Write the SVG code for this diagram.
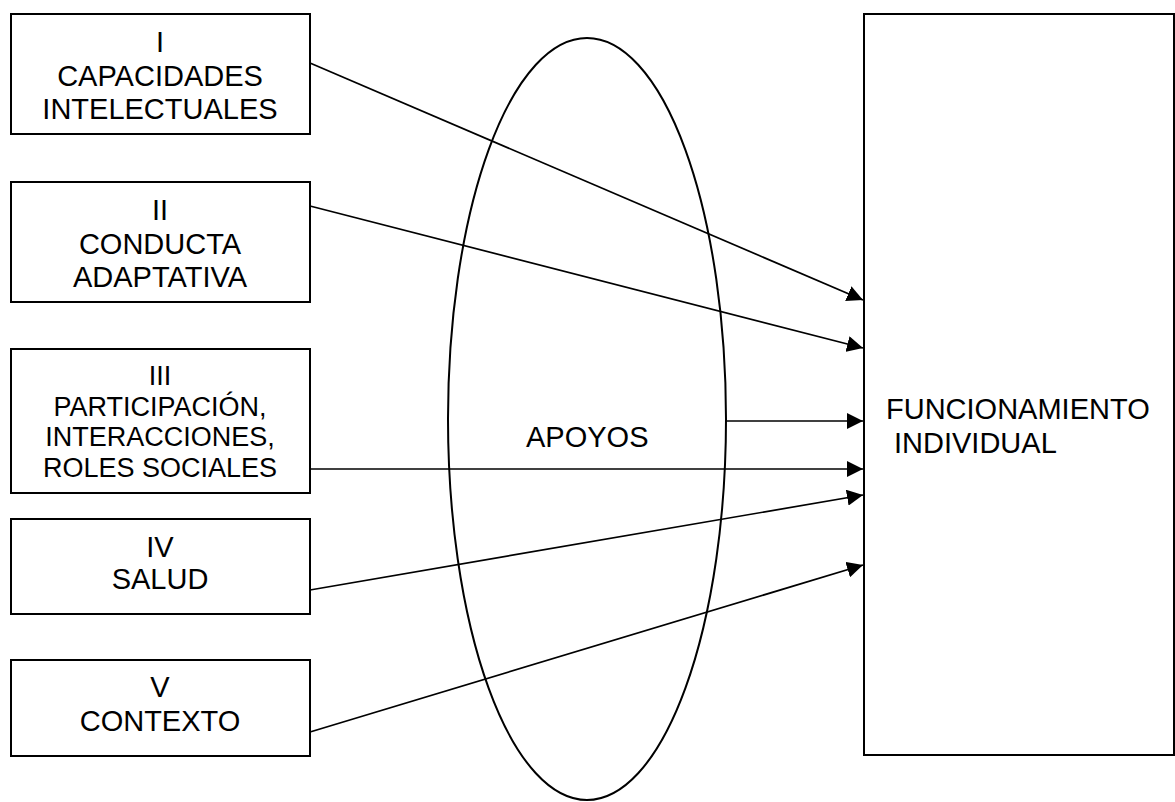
<svg xmlns="http://www.w3.org/2000/svg" width="1175" height="802" viewBox="0 0 1175 802">
<style>
.box{fill:#fff;stroke:#000;stroke-width:2}
.t{font-family:"Liberation Sans",Arial,sans-serif;font-size:29px;fill:#000}
.s{font-size:27px}
.c{text-anchor:middle}
.ln{stroke:#000;stroke-width:1.7;fill:none;marker-end:url(#ah)}
</style>
<defs>
<marker id="ah" markerUnits="userSpaceOnUse" markerWidth="16" markerHeight="16" viewBox="0 0 16 16" refX="16" refY="8" orient="auto">
<path d="M0,0 L16,8 L0,16 Z" fill="#000"/>
</marker>
</defs>
<rect width="1175" height="802" fill="#fff"/>
<g id="apoyos">
<ellipse cx="587" cy="419" rx="139" ry="381" fill="none" stroke="#000" stroke-width="2"/>
<text class="t" x="526" y="447">APOYOS</text>
</g>
<g id="n1">
<rect class="box" x="11" y="14" width="299" height="120"/>
<text class="t c" x="160" y="52">I</text>
<text class="t c" x="160" y="86">CAPACIDADES</text>
<text class="t c" x="160" y="119">INTELECTUALES</text>
</g>
<g id="n2">
<rect class="box" x="11" y="182" width="299" height="120"/>
<text class="t c" x="160" y="220">II</text>
<text class="t c" x="160" y="254">CONDUCTA</text>
<text class="t c" x="160" y="287">ADAPTATIVA</text>
</g>
<g id="n3">
<rect class="box" x="11" y="349" width="299" height="144"/>
<text class="t s c" x="160" y="385">III</text>
<text class="t s c" x="160" y="416">PARTICIPACIÓN,</text>
<text class="t s c" x="160" y="446">INTERACCIONES,</text>
<text class="t s c" x="160" y="477">ROLES SOCIALES</text>
</g>
<g id="n4">
<rect class="box" x="11" y="519" width="299" height="95"/>
<text class="t c" x="160" y="557">IV</text>
<text class="t c" x="160" y="589">SALUD</text>
</g>
<g id="n5">
<rect class="box" x="11" y="660" width="299" height="96"/>
<text class="t c" x="160" y="697">V</text>
<text class="t c" x="160" y="731">CONTEXTO</text>
</g>
<g id="n6">
<rect class="box" x="864" y="14" width="310" height="741"/>
<text class="t" x="886" y="419">FUNCIONAMIENTO</text>
<text class="t" x="894" y="453">INDIVIDUAL</text>
</g>
<g id="connectors">
<line class="ln" x1="310" y1="63" x2="863" y2="300"/>
<line class="ln" x1="310" y1="206" x2="863" y2="348"/>
<line class="ln" x1="726" y1="421" x2="863" y2="421"/>
<line class="ln" x1="310" y1="469" x2="863" y2="469"/>
<line class="ln" x1="310" y1="590" x2="863" y2="495"/>
<line class="ln" x1="310" y1="732" x2="863" y2="565"/>
</g>
</svg>
